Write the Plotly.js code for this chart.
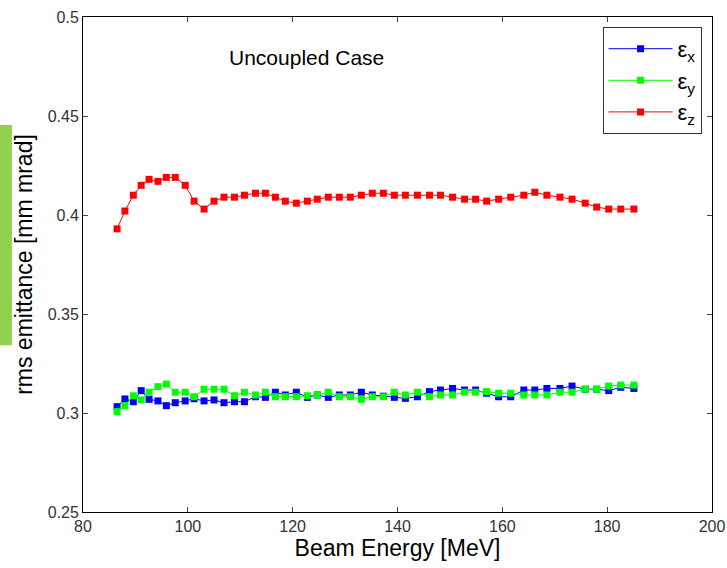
<!DOCTYPE html>
<html>
<head>
<meta charset="utf-8">
<script src="https://cdn.plot.ly/plotly-3.0.1.min.js"></script>
<style>html,body{margin:0;padding:0;background:#fff;}#chart{width:727px;height:568px;}</style>
</head>
<body>
<div id="chart"></div>
<script>
const energy = [86.5,88.0,89.6,91.1,92.6,94.3,95.9,97.6,99.5,101.2,103.1,105.0,106.9,108.9,110.8,112.9,114.8,116.7,118.6,120.7,122.8,124.7,126.8,128.9,131.0,133.1,135.2,137.3,139.4,141.5,143.8,146.1,148.2,150.5,152.8,154.9,157.0,159.3,161.6,164.1,166.2,168.5,171.0,173.3,175.8,178.0,180.3,182.6,185.1];
const emitX = [0.3032,0.3071,0.3057,0.3113,0.3069,0.3061,0.3037,0.3052,0.3061,0.3072,0.3061,0.3066,0.3052,0.3057,0.3057,0.3082,0.3079,0.3105,0.3091,0.3105,0.3079,0.3091,0.3079,0.3091,0.3091,0.3105,0.3091,0.3085,0.3079,0.3074,0.3082,0.3108,0.3116,0.3124,0.3116,0.3116,0.3100,0.3082,0.3082,0.3116,0.3116,0.3124,0.3124,0.3136,0.3120,0.3120,0.3113,0.3130,0.3124];
const emitY = [0.3007,0.3037,0.3087,0.3066,0.3105,0.3133,0.3146,0.3105,0.3105,0.3082,0.3120,0.3120,0.3120,0.3087,0.3105,0.3091,0.3105,0.3082,0.3082,0.3082,0.3087,0.3091,0.3105,0.3082,0.3082,0.3069,0.3082,0.3082,0.3105,0.3091,0.3105,0.3082,0.3091,0.3091,0.3105,0.3105,0.3108,0.3100,0.3100,0.3091,0.3091,0.3091,0.3105,0.3105,0.3120,0.3120,0.3136,0.3141,0.3141];
const emitZ = [0.393,0.402,0.410,0.415,0.418,0.417,0.419,0.419,0.415,0.407,0.403,0.407,0.409,0.409,0.410,0.411,0.411,0.409,0.407,0.406,0.407,0.408,0.409,0.409,0.409,0.410,0.411,0.411,0.410,0.410,0.410,0.410,0.410,0.409,0.408,0.408,0.407,0.408,0.409,0.410,0.4115,0.410,0.409,0.408,0.406,0.404,0.403,0.403,0.403];
const seriesNames = ['ε<sub>x</sub>','ε<sub>y</sub>','ε<sub>z</sub>'];
const seriesColors = ['#0000ff','#00ff00','#ff0000'];
const seriesData = [emitX, emitY, emitZ];
const xTicks = [80,100,120,140,160,180,200];
const yTicks = [0.25,0.3,0.35,0.4,0.45,0.5];
const yTickText = ['0.25','0.3','0.35','0.4','0.45','0.5'];

const FONT = 'Liberation Sans, Arial, Helvetica, sans-serif';
const traces = seriesData.map((d,i)=>({
  x: energy, y: d, type:'scatter', mode:'lines+markers', name: seriesNames[i],
  line:{color:seriesColors[i], width:1},
  marker:{symbol:'square', size:7, color:seriesColors[i]}
}));

const layout = {
  width:727, height:568,
  margin:{l:83, r:15, t:17, b:56},
  paper_bgcolor:'#fff', plot_bgcolor:'#fff',
  font:{family:FONT, color:'#000'},
  showlegend:true,
  legend:{x:0.826, y:0.98, xanchor:'left', yanchor:'top', bordercolor:'#333', borderwidth:1, bgcolor:'#fff',
          font:{size:22, family:FONT}, itemwidth:64, tracegroupgap:0},
  xaxis:{range:[80,200], tickvals:xTicks, ticks:'inside', ticklen:5, showline:true, linecolor:'#000', linewidth:1,
         mirror:'ticks', showgrid:false, zeroline:false, tickfont:{size:16, color:'#333', family:FONT},
         title:{text:'Beam Energy [MeV]', font:{size:23, family:FONT}, standoff:4}},
  yaxis:{range:[0.25,0.5], tickvals:yTicks, ticktext:yTickText, ticks:'inside', ticklen:5, showline:true, linecolor:'#000', linewidth:1,
         mirror:'ticks', showgrid:false, zeroline:false, tickfont:{size:16, color:'#333', family:FONT},
         title:{text:'rms emittance [mm mrad]', font:{size:23, family:FONT}, standoff:8}},
  annotations:[{text:'Uncoupled Case', xref:'paper', yref:'paper', x:0.356, y:0.918, xanchor:'center', yanchor:'middle',
                showarrow:false, font:{size:21, family:FONT, color:'#000'}}],
  shapes:[{type:'rect', xref:'paper', yref:'paper', x0:-0.132, x1:-0.113, y0:0.337, y1:0.782, fillcolor:'#92d050', line:{width:0}}]
};
Plotly.newPlot('chart', traces, layout, {displayModeBar:false});
</script>
</body>
</html>
